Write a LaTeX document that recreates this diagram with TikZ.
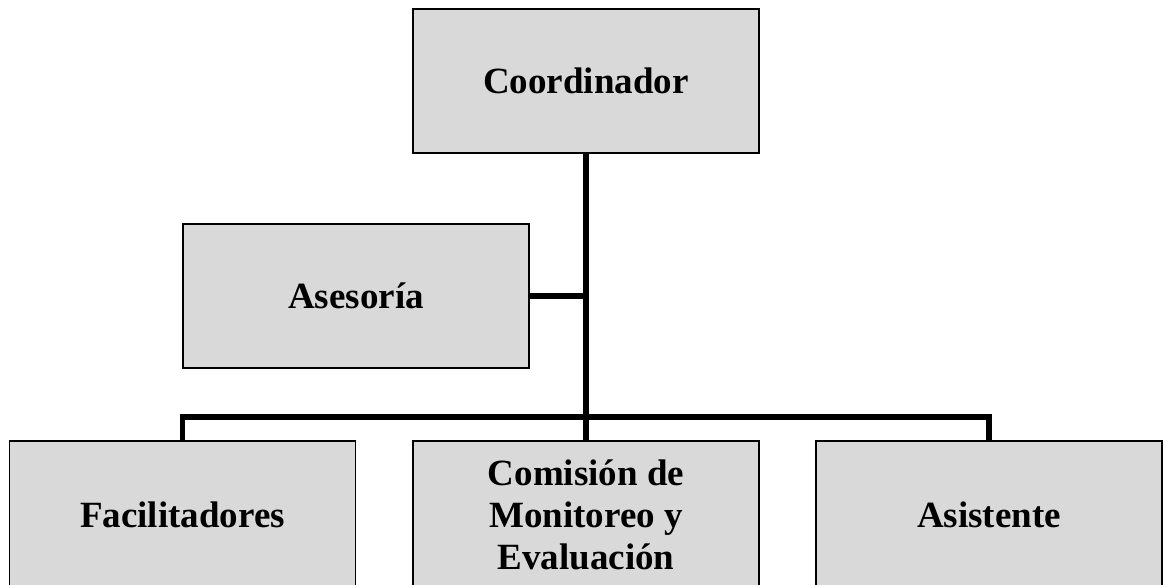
\documentclass[tikz,border=0pt]{standalone}
\usepackage{fontspec}
\setmainfont{Liberation Serif}
\definecolor{boxgray}{HTML}{D9D9D9}
\begin{document}
\begin{tikzpicture}[x=1pt,y=-1pt,
  orgbox/.style={draw=black, line width=1.5pt, fill=boxgray, minimum width=346pt, minimum height=144pt,
    inner sep=0pt, align=center, font=\fontsize{37}{42}\selectfont\bfseries},
  lowbox/.style={orgbox, minimum height=148pt},
  conn/.style={draw=black, line width=5.5pt}]
\useasboundingbox (0,0) rectangle (1169,584);
\begin{scope}
\clip (0,0) rectangle (1169,584);
\node[orgbox] (coord) at (586,81) {Coordinador};
\node[orgbox] (ase) at (356,296) {Asesoría};
\node[lowbox] (fac) at (182.5,515) {Facilitadores};
\node[lowbox] (mid) at (586,515) {Comisión de\\Monitoreo y\\Evaluación};
\node[lowbox] (asis) at (989,515) {Asistente};
\coordinate (bar) at (586,417);
\draw[conn] (coord.south) -- (mid.north);
\draw[conn] (ase.east) -- (ase.east -| coord.south);
\draw[conn] (fac.north) |- (bar) -| (asis.north);
\end{scope}
\end{tikzpicture}
\end{document}
